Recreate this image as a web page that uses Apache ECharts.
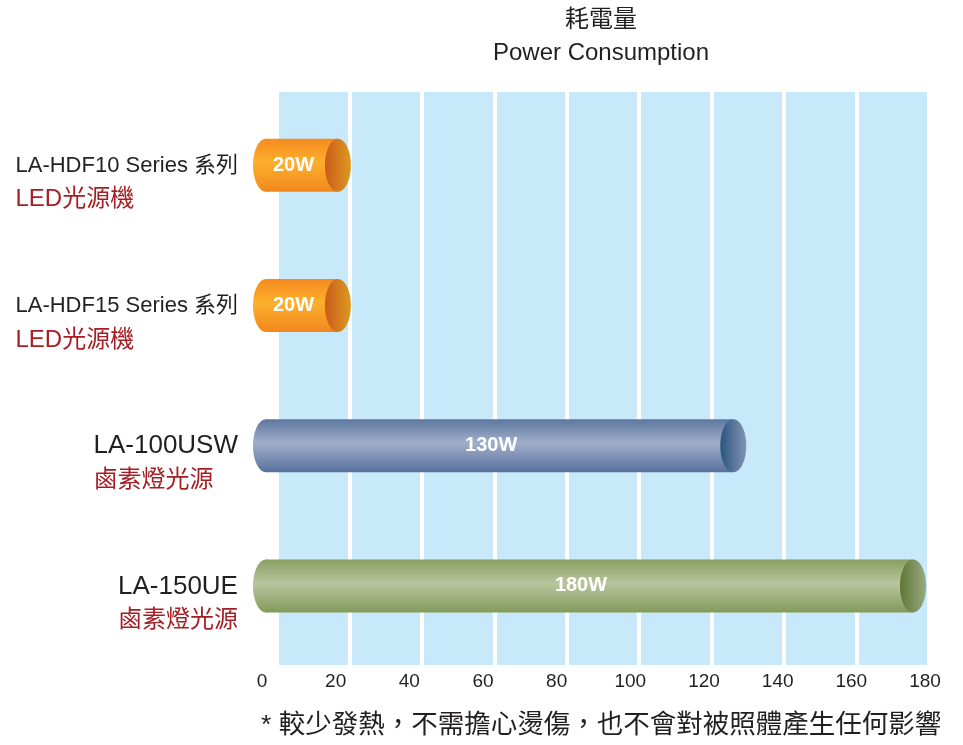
<!DOCTYPE html>
<html>
<head>
<meta charset="utf-8">
<script src="https://cdn.jsdelivr.net/npm/echarts@6/dist/echarts.min.js"></script>
<style>html,body{margin:0;padding:0;background:#fff;}#chart{width:963px;height:745px;}</style>
</head>
<body>
<div id="chart"></div>
<script>
// ---- data ----
const categories = ['LA-HDF10 Series 系列', 'LA-HDF15 Series 系列', 'LA-100USW', 'LA-150UE'];
const lampTypes = ['LED光源機', 'LED光源機', '鹵素燈光源', '鹵素燈光源'];
const powerW = [20, 20, 130, 180];
const barLabels = ['20W', '20W', '130W', '180W'];
const titleLines = ['耗電量', 'Power Consumption'];
const footnote = '* 較少發熱，不需擔心燙傷，也不會對被照體產生任何影響';
const axisMin = 0, axisMax = 180, axisStep = 20;
const bgColumns = 9;

// ---- styles ----
const FONT = "'Liberation Sans', 'Noto Sans CJK TC', sans-serif";
const TEXT = '#231f20';
const RED = '#a51e24';
const palettes = [
  { body: ['#f68a1f', '#fcb02c', '#f3871e'], face: ['#cb5b1c', '#dc9a20'] },
  { body: ['#f68a1f', '#fcb02c', '#f3871e'], face: ['#cb5b1c', '#dc9a20'] },
  { body: ['#5d779f', '#a0aec9', '#58729e'], face: ['#2b5580', '#8393b2'] },
  { body: ['#889e62', '#b9c59d', '#849a5b'], face: ['#5d7837', '#9aa880'] }
];

const chart = echarts.init(document.getElementById('chart'));

function renderBar(params, api) {
  const idx = api.value(1);
  const p0 = api.coord([0, idx]);
  const p1 = api.coord([api.value(0), idx]);
  const h = 53, rx = 13, ry = h / 2;
  const pal = palettes[idx];
  const vGrad = new echarts.graphic.LinearGradient(0, 0, 0, 1, [
    { offset: 0, color: pal.body[0] },
    { offset: 0.45, color: pal.body[1] },
    { offset: 1, color: pal.body[2] }
  ]);
  const hGrad = new echarts.graphic.LinearGradient(0, 0, 1, 0, [
    { offset: 0, color: pal.face[0] },
    { offset: 1, color: pal.face[1] }
  ]);
  const cy = p0[1];
  return {
    type: 'group',
    children: [
      { type: 'ellipse', shape: { cx: p0[0], cy: cy, rx: rx, ry: ry }, style: { fill: vGrad } },
      { type: 'rect', shape: { x: p0[0], y: cy - ry, width: p1[0] - p0[0], height: h }, style: { fill: vGrad } },
      { type: 'ellipse', shape: { cx: p1[0], cy: cy, rx: rx, ry: ry }, style: { fill: hGrad } },
      { type: 'text', style: {
          text: barLabels[idx], x: (p0[0] - rx + p1[0]) / 2 - 2, y: cy,
          fill: '#ffffff', font: 'bold 20px ' + FONT, align: 'center', verticalAlign: 'middle'
        } }
    ]
  };
}

const option = {
  animation: false,
  backgroundColor: '#ffffff',
  title: [
    {
      text: titleLines.join('\n'),
      left: 596, top: -1, textAlign: 'center',
      textStyle: { fontFamily: FONT, fontSize: 24, fontWeight: 'normal', color: TEXT, lineHeight: 33 }
    },
    {
      text: footnote,
      left: 256, top: 706,
      textStyle: { fontFamily: FONT, fontSize: 26.5, fontWeight: 'normal', color: TEXT, lineHeight: 30 }
    }
  ],
  grid: [
    { left: 266, right: 50, top: 95, bottom: 89 },   // bars
    { left: 262, right: 38, top: 92, bottom: 80 },   // tick labels
    { left: 277, right: 34, top: 92, bottom: 80 }    // background columns
  ],
  xAxis: [
    { gridIndex: 0, type: 'value', min: axisMin, max: axisMax, show: false },
    {
      gridIndex: 1, type: 'value', min: axisMin, max: axisMax, interval: axisStep,
      axisLine: { show: false }, axisTick: { show: false }, splitLine: { show: false },
      axisLabel: { margin: 7, fontFamily: FONT, fontSize: 19, color: TEXT }
    },
    {
      gridIndex: 2, type: 'value', min: 0, max: bgColumns, interval: 1,
      axisLine: { show: false }, axisTick: { show: false }, axisLabel: { show: false },
      splitArea: { show: true, areaStyle: { color: ['#c7e9f9', '#c7e9f9'] } },
      splitLine: { show: true, lineStyle: { color: '#ffffff', width: 4 } }
    }
  ],
  yAxis: [
    {
      gridIndex: 0, type: 'category', data: categories, inverse: true,
      axisLine: { show: false }, axisTick: { show: false }, splitLine: { show: false },
      axisLabel: {
        margin: 28,
        padding: [35, 0, 0, 0],
        formatter: function (v) {
          const i = categories.indexOf(v);
          const key = v.length > 12 ? 'a' : 'b';
          return '{' + key + '|' + v + '}\n{r|' + lampTypes[i] + '}';
        },
        rich: {
          a: { fontFamily: FONT, fontSize: 22, color: TEXT, lineHeight: 34, align: 'left' },
          b: { fontFamily: FONT, fontSize: 26, color: TEXT, lineHeight: 34, align: 'left' },
          r: { fontFamily: FONT, fontSize: 24, color: RED, lineHeight: 34, align: 'left' }
        }
      }
    },
    { gridIndex: 1, type: 'value', show: false },
    { gridIndex: 2, type: 'value', show: false }
  ],
  series: [
    {
      type: 'custom',
      xAxisIndex: 0, yAxisIndex: 0,
      renderItem: renderBar,
      encode: { x: 0, y: 1 },
      data: powerW.map((v, i) => [v, i]),
      z: 5
    }
  ]
};
chart.setOption(option);
</script>
</body>
</html>
